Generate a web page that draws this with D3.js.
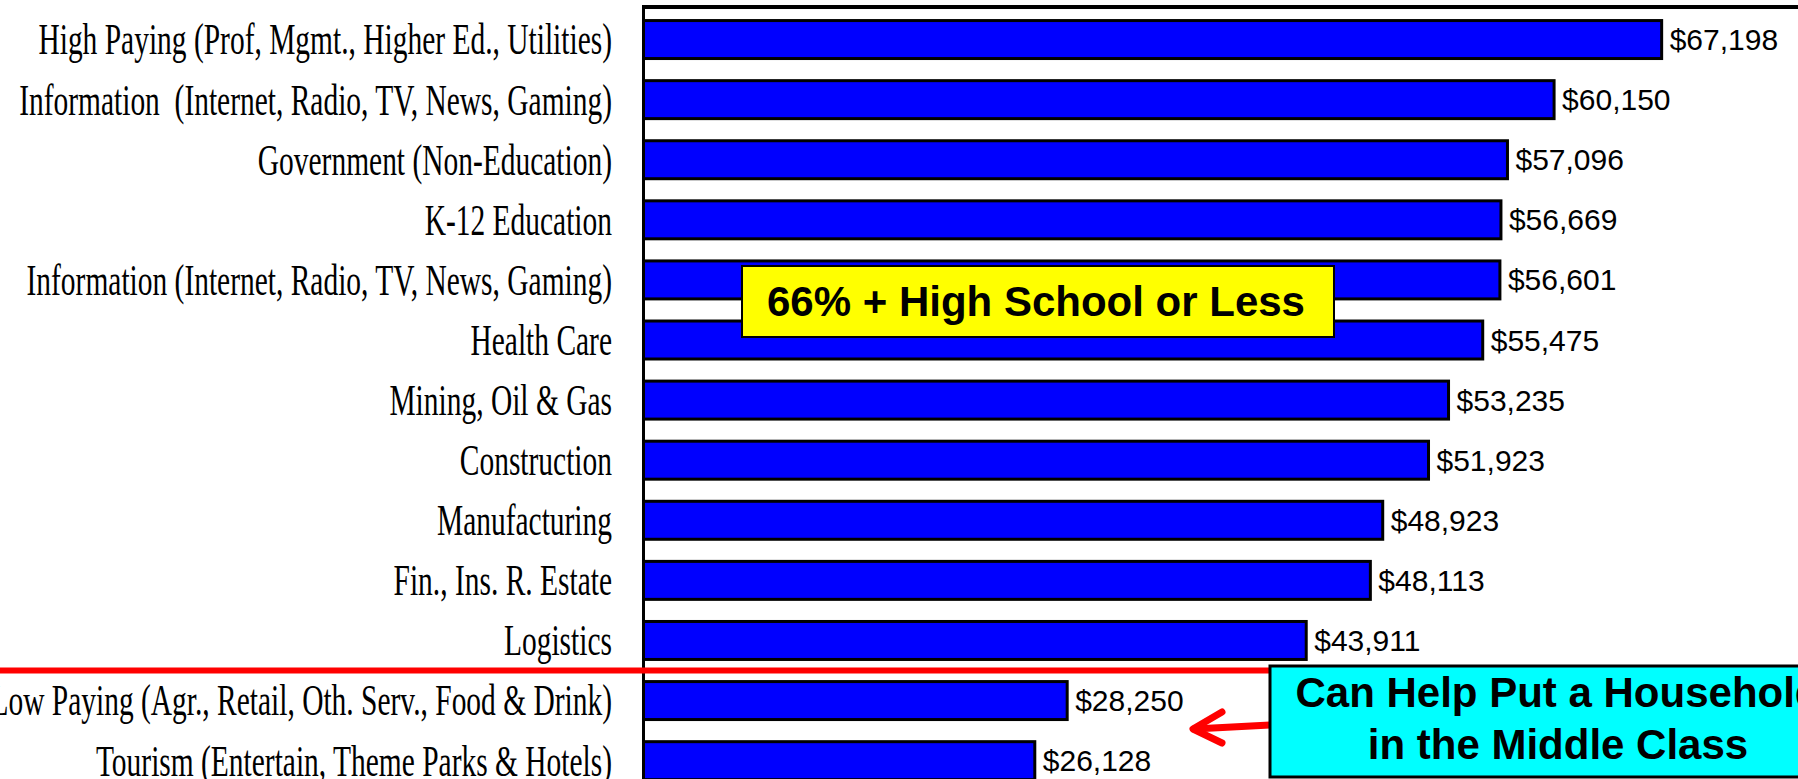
<html>
<head>
<script src="https://d3js.org/d3.v7.min.js"></script>
<style>
  body { margin: 0; background: #fff; }
  .cat { font-family: "Liberation Serif", "Times New Roman", serif; font-size: 45px; fill: #000; }
  .val { font-family: "Liberation Sans", Arial, sans-serif; font-size: 30px; fill: #000; }
  .note { font-family: "Liberation Sans", Arial, sans-serif; font-size: 42px; font-weight: bold; fill: #000; }
</style>
</head>
<body>
<svg width="1798" height="779"></svg>
<script>
var categories = [
  "High Paying (Prof, Mgmt., Higher Ed., Utilities)",
  "Information  (Internet, Radio, TV, News, Gaming)",
  "Government (Non-Education)",
  "K-12 Education",
  "Information (Internet, Radio, TV, News, Gaming)",
  "Health Care",
  "Mining, Oil & Gas",
  "Construction",
  "Manufacturing",
  "Fin., Ins. R. Estate",
  "Logistics",
  "Low Paying (Agr., Retail, Oth. Serv., Food & Drink)",
  "Tourism (Entertain, Theme Parks & Hotels)"
];
var wages = [67198, 60150, 57096, 56669, 56601, 55475, 53235, 51923, 48923, 48113, 43911, 28250, 26128];
var splitAfter = 11; // first low paying row
var note1 = "66% + High School or Less";
var note2 = ["Can Help Put a Household", "in the Middle Class"];

var svg = d3.select("svg");
var axisX = 643.5;

var x = d3.scaleLinear().domain([0, 76000]).range([636, 1796]);
var y = d3.scaleBand().domain(categories).range([9.5, 790.7]).paddingInner(0.368).paddingOuter(0.184);

// bars
svg.append("g").selectAll("rect")
  .data(categories).enter().append("rect")
    .attr("x", axisX)
    .attr("y", function(d) { return y(d); })
    .attr("width", function(d, i) { return x(wages[i]) - axisX; })
    .attr("height", y.bandwidth())
    .attr("fill", "#0000ff")
    .attr("stroke", "#000")
    .attr("stroke-width", 3);

// value labels
svg.append("g").selectAll("text")
  .data(categories).enter().append("text")
    .attr("class", "val")
    .attr("x", function(d, i) { return x(wages[i]) + 8; })
    .attr("y", function(d) { return y(d) + y.bandwidth() / 2; })
    .attr("dy", "0.35em")
    .text(function(d, i) { return "$" + d3.format(",")(wages[i]); });

// category labels (condensed look)
svg.append("g").selectAll("text")
  .data(categories).enter().append("text")
    .attr("class", "cat")
    .attr("text-anchor", "end")
    .attr("transform", function(d) { return "translate(612," + (y(d) + y.bandwidth() / 2) + ") scale(0.655,1)"; })
    .attr("dy", "0.33em")
    .style("white-space", "pre")
    .text(function(d) { return d; });

// frame
svg.append("line").attr("x1", axisX - 1.5).attr("x2", 1798).attr("y1", 7).attr("y2", 7)
  .attr("stroke", "#000").attr("stroke-width", 4);
svg.append("line").attr("x1", axisX).attr("x2", axisX).attr("y1", 5).attr("y2", 779)
  .attr("stroke", "#000").attr("stroke-width", 3);

// red divider between high and low paying
var splitY = y(categories[splitAfter]) - y.step() * y.paddingInner() / 2;
svg.append("line").attr("x1", 0).attr("x2", 1270).attr("y1", splitY).attr("y2", splitY)
  .attr("stroke", "#ff0000").attr("stroke-width", 6);

// yellow note
svg.append("rect").attr("x", 742).attr("y", 266).attr("width", 592).attr("height", 71)
  .attr("fill", "#ffff00").attr("stroke", "#000").attr("stroke-width", 2);
svg.append("text").attr("class", "note").attr("x", 1036).attr("y", 316)
  .attr("text-anchor", "middle").text(note1);

// arrow
svg.append("line").attr("x1", 1270).attr("y1", 725).attr("x2", 1194).attr("y2", 729)
  .attr("stroke", "#ff0000").attr("stroke-width", 7).attr("stroke-linecap", "round");
svg.append("polyline").attr("points", "1222,712 1193,729 1222,743")
  .attr("fill", "none").attr("stroke", "#ff0000").attr("stroke-width", 7)
  .attr("stroke-linecap", "round").attr("stroke-linejoin", "round");

// cyan note
svg.append("rect").attr("x", 1270).attr("y", 666).attr("width", 580).attr("height", 111)
  .attr("fill", "#00ffff").attr("stroke", "#000").attr("stroke-width", 3);
svg.append("g").selectAll("text")
  .data(note2).enter().append("text")
    .attr("class", "note")
    .attr("x", 1558)
    .attr("y", function(d, i) { return 707 + i * 52; })
    .attr("text-anchor", "middle")
    .text(function(d) { return d; });
</script>
</body>
</html>
